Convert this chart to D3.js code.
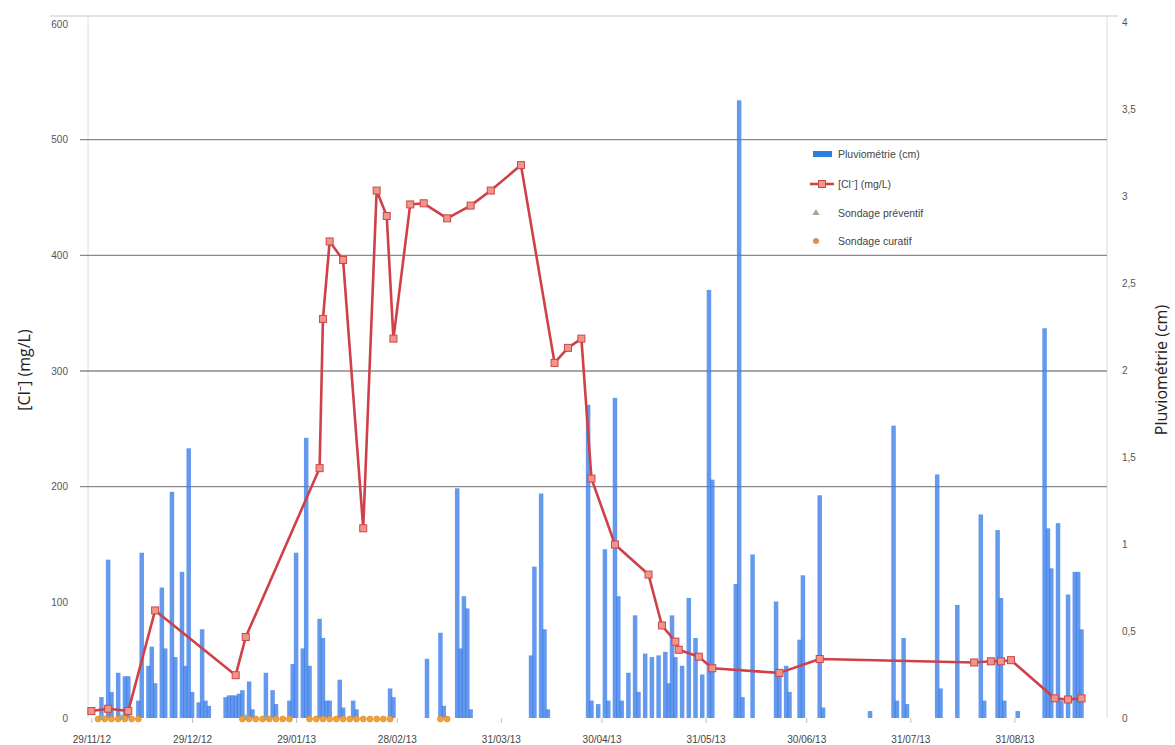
<!DOCTYPE html>
<html><head><meta charset="utf-8">
<script src="https://cdn.jsdelivr.net/npm/d3@7"></script>
<style>body{margin:0;background:#fff}svg{display:block}</style>
</head><body>
<svg id="chart" width="1175" height="745"></svg>
<script>
const rainDates = ["2012-12-02","2012-12-04","2012-12-05","2012-12-07","2012-12-09","2012-12-10","2012-12-13","2012-12-14","2012-12-16","2012-12-17","2012-12-18","2012-12-20","2012-12-21","2012-12-23","2012-12-24","2012-12-26","2012-12-27","2012-12-28","2012-12-29","2012-12-31","2013-01-01","2013-01-02","2013-01-03","2013-01-08","2013-01-09","2013-01-10","2013-01-11","2013-01-12","2013-01-13","2013-01-15","2013-01-16","2013-01-20","2013-01-22","2013-01-23","2013-01-27","2013-01-28","2013-01-29","2013-01-31","2013-02-01","2013-02-02","2013-02-05","2013-02-06","2013-02-07","2013-02-08","2013-02-11","2013-02-12","2013-02-15","2013-02-16","2013-02-26","2013-02-27","2013-03-09","2013-03-13","2013-03-14","2013-03-18","2013-03-19","2013-03-20","2013-03-21","2013-03-22","2013-04-09","2013-04-10","2013-04-12","2013-04-13","2013-04-14","2013-04-26","2013-04-27","2013-04-29","2013-05-01","2013-05-02","2013-05-04","2013-05-05","2013-05-06","2013-05-08","2013-05-10","2013-05-11","2013-05-13","2013-05-15","2013-05-17","2013-05-19","2013-05-20","2013-05-21","2013-05-22","2013-05-24","2013-05-26","2013-05-28","2013-05-30","2013-06-01","2013-06-02","2013-06-09","2013-06-10","2013-06-11","2013-06-14","2013-06-21","2013-06-22","2013-06-24","2013-06-25","2013-06-28","2013-06-29","2013-07-04","2013-07-05","2013-07-19","2013-07-26","2013-07-27","2013-07-29","2013-07-30","2013-08-08","2013-08-09","2013-08-14","2013-08-21","2013-08-22","2013-08-26","2013-08-27","2013-08-28","2013-09-01","2013-09-09","2013-09-10","2013-09-11","2013-09-13","2013-09-14","2013-09-16","2013-09-18","2013-09-19","2013-09-20"];
const rainValues = [0.12,0.91,0.15,0.26,0.24,0.24,0.10,0.95,0.30,0.41,0.20,0.75,0.40,1.30,0.35,0.84,0.30,1.55,0.15,0.09,0.51,0.10,0.07,0.12,0.13,0.13,0.13,0.14,0.16,0.21,0.05,0.26,0.16,0.08,0.10,0.31,0.95,0.40,1.61,0.30,0.57,0.46,0.10,0.10,0.22,0.06,0.10,0.05,0.17,0.12,0.34,0.49,0.07,1.32,0.40,0.70,0.63,0.05,0.36,0.87,1.29,0.51,0.05,1.80,0.10,0.08,0.97,0.10,1.84,0.70,0.10,0.26,0.59,0.15,0.37,0.35,0.36,0.38,0.20,0.59,0.35,0.30,0.69,0.46,0.25,2.46,1.37,0.77,3.55,0.12,0.94,0.67,0.26,0.30,0.15,0.45,0.82,1.28,0.06,0.04,1.68,0.10,0.46,0.08,1.40,0.17,0.65,1.17,0.10,1.08,0.69,0.10,0.04,2.24,1.09,0.86,1.12,0.10,0.71,0.84,0.84,0.51];

const clDates = ["2012-11-29","2012-12-04","2012-12-10","2012-12-18","2013-01-11","2013-01-14","2013-02-05","2013-02-06","2013-02-08","2013-02-12","2013-02-18","2013-02-22","2013-02-25","2013-02-27","2013-03-04","2013-03-08","2013-03-15","2013-03-22","2013-03-28","2013-04-06","2013-04-16","2013-04-20","2013-04-24","2013-04-27","2013-05-04","2013-05-14","2013-05-18","2013-05-22","2013-05-23","2013-05-29","2013-06-02","2013-06-22","2013-07-04","2013-08-19","2013-08-24","2013-08-27","2013-08-30","2013-09-12","2013-09-16","2013-09-20"];
const clValues = [6,8,6,93,37,70,216,345,412,396,164,456,434,328,444,445,432,443,456,478,307,320,328,207,150,124,80,66,59,53,43,39,51,48,49,49,50,17,16,17];

const curatifDates = ["2012-12-01","2012-12-03","2012-12-05","2012-12-07","2012-12-09","2012-12-11","2012-12-13","2013-01-13","2013-01-15","2013-01-17","2013-01-19","2013-01-21","2013-01-23","2013-01-25","2013-01-27","2013-02-02","2013-02-04","2013-02-06","2013-02-08","2013-02-10","2013-02-12","2013-02-14","2013-02-16","2013-02-18","2013-02-20","2013-02-22","2013-02-24","2013-02-26","2013-03-13","2013-03-15"];
const preventifDates = ["2012-12-02","2012-12-08","2013-01-14","2013-01-20"];

const xTickDates = ["2012-11-29","2012-12-29","2013-01-29","2013-02-28","2013-03-31","2013-04-30","2013-05-31","2013-06-30","2013-07-31","2013-08-31"];
const xTickLabels = ["29/11/12","29/12/12","29/01/13","28/02/13","31/03/13","30/04/13","31/05/13","30/06/13","31/07/13","31/08/13"];
const leftTicks = [0,100,200,300,400,500,600];
const leftGrid = [200,300,400,500];
const rightTicks = [0,0.5,1,1.5,2,2.5,3,3.5,4];
const rightTickLabels = ["0","0,5","1","1,5","2","2,5","3","3,5","4"];
const legendLabels = ["Pluviométrie (cm)","[Cl⁻] (mg/L)","Sondage préventif","Sondage curatif"];

const parse = d3.utcParse("%Y-%m-%d");
const svg = d3.select("#chart");
svg.append("rect").attr("width",1175).attr("height",745).attr("fill","#fff");

const x = d3.scaleUtc().domain([Date.UTC(2012,10,28), Date.UTC(2013,8,27)]).range([88,1105]);
const yL = d3.scaleLinear().domain([0,600]).range([718,24]);
const yR = d3.scaleLinear().domain([0,4]).range([718,22]);

// frame
svg.append("line").attr("x1",50).attr("x2",1118).attr("y1",16).attr("y2",16).attr("stroke","#c8c8c8");
svg.append("line").attr("x1",88).attr("x2",88).attr("y1",16).attr("y2",718).attr("stroke","#dcdcdc");
svg.append("line").attr("x1",1107).attr("x2",1107).attr("y1",16).attr("y2",718).attr("stroke","#dcdcdc");

// gridlines
svg.append("g").selectAll("line").data(leftGrid).join("line")
  .attr("x1",80).attr("x2",1107).attr("y1",d=>yL(d)).attr("y2",d=>yL(d))
  .attr("stroke","#8a8a8a").attr("stroke-width",1.3);

// left axis
const axL = d3.axisLeft(yL).tickValues(leftTicks).tickSize(0).tickPadding(0).tickFormat(d3.format("d"));
const gL = svg.append("g").attr("transform","translate(68,0)").call(axL);
gL.select(".domain").remove();
gL.selectAll("text").attr("font-family","Liberation Sans, Arial, sans-serif").attr("font-size",10).attr("fill","#555");

// right axis
const axR = d3.axisRight(yR).tickValues(rightTicks).tickSize(0).tickPadding(0).tickFormat((d,i)=>rightTickLabels[i]);
const gR = svg.append("g").attr("transform","translate(1122,0)").call(axR);
gR.select(".domain").remove();
gR.selectAll("text").attr("font-family","Liberation Sans, Arial, sans-serif").attr("font-size",10).attr("fill","#555");

// x axis
const axX = d3.axisBottom(x).tickValues(xTickDates.map(parse)).tickSize(5).tickPadding(13).tickFormat((d,i)=>xTickLabels[i]);
const gX = svg.append("g").attr("transform","translate(0,718)").call(axX);
gX.select(".domain").remove();
gX.selectAll("line").attr("stroke","#c0c0c0");
gX.selectAll("text").attr("font-family","Liberation Sans, Arial, sans-serif").attr("font-size",10).attr("fill","#444");

// bars
const rain = rainDates.map((d,i)=>({date:parse(d), v:rainValues[i]}));
svg.append("g").selectAll("rect").data(rain).join("rect")
  .attr("x",d=>x(d.date)-2.25).attr("width",4.5)
  .attr("y",d=>yR(d.v)).attr("height",d=>yR(0)-yR(d.v))
  .attr("fill","#3f7fea").attr("fill-opacity",0.8);

// sondage markers
svg.append("g").selectAll("circle").data(curatifDates.map(parse)).join("circle")
  .attr("cx",d=>x(d)).attr("cy",yL(0)+1).attr("r",3)
  .attr("fill","#f2a03a").attr("stroke","#d8862a").attr("stroke-width",0.6);
const tri = d3.symbol().type(d3.symbolTriangle).size(22);
svg.append("g").selectAll("path").data(preventifDates.map(parse)).join("path")
  .attr("d",tri).attr("transform",d=>`translate(${x(d)},${yL(0)})`)
  .attr("fill","#a9a48a");

// Cl line
const cl = clDates.map((d,i)=>({date:parse(d), v:clValues[i]}));
const line = d3.line().x(d=>x(d.date)).y(d=>yL(d.v));
svg.append("path").datum(cl).attr("d",line).attr("fill","none")
  .attr("stroke","#cf4048").attr("stroke-width",2.6).attr("stroke-linejoin","round");
svg.append("g").selectAll("rect").data(cl).join("rect")
  .attr("x",d=>x(d.date)-3.5).attr("y",d=>yL(d.v)-3.5).attr("width",7).attr("height",7)
  .attr("fill","#ef9688").attr("stroke","#c9474c").attr("stroke-width",1);

// axis titles
const tf = "Open Sans, Noto Sans, sans-serif";
svg.append("text").attr("transform","translate(30,370) rotate(-90)").attr("text-anchor","middle")
  .attr("font-family",tf).attr("font-size",16).attr("fill","#222").text("[Cl⁻] (mg/L)");
svg.append("text").attr("transform","translate(1167,370) rotate(-90)").attr("text-anchor","middle")
  .attr("font-family",tf).attr("font-size",16).attr("fill","#222").text("Pluviométrie (cm)");

// legend
const lg = svg.append("g");
const ly = [154,184,213,241];
lg.append("rect").attr("x",813).attr("y",ly[0]-3).attr("width",19).attr("height",6).attr("fill","#2e7fd9");
lg.append("line").attr("x1",810).attr("x2",834).attr("y1",ly[1]).attr("y2",ly[1]).attr("stroke","#cf4048").attr("stroke-width",2.6);
lg.append("rect").attr("x",818.5).attr("y",ly[1]-3.5).attr("width",7).attr("height",7).attr("fill","#ef9688").attr("stroke","#c9474c");
lg.append("path").attr("d",tri).attr("transform",`translate(816,${ly[2]})`).attr("fill","#a9a48a");
lg.append("circle").attr("cx",816).attr("cy",ly[3]).attr("r",3).attr("fill","#d9905a");
lg.selectAll("text").data(legendLabels).join("text")
  .attr("x",838).attr("y",(d,i)=>ly[i]+4).attr("font-family","Liberation Sans, Arial, sans-serif")
  .attr("font-size",10.5).attr("fill","#444").text(d=>d);
</script>
</body></html>
